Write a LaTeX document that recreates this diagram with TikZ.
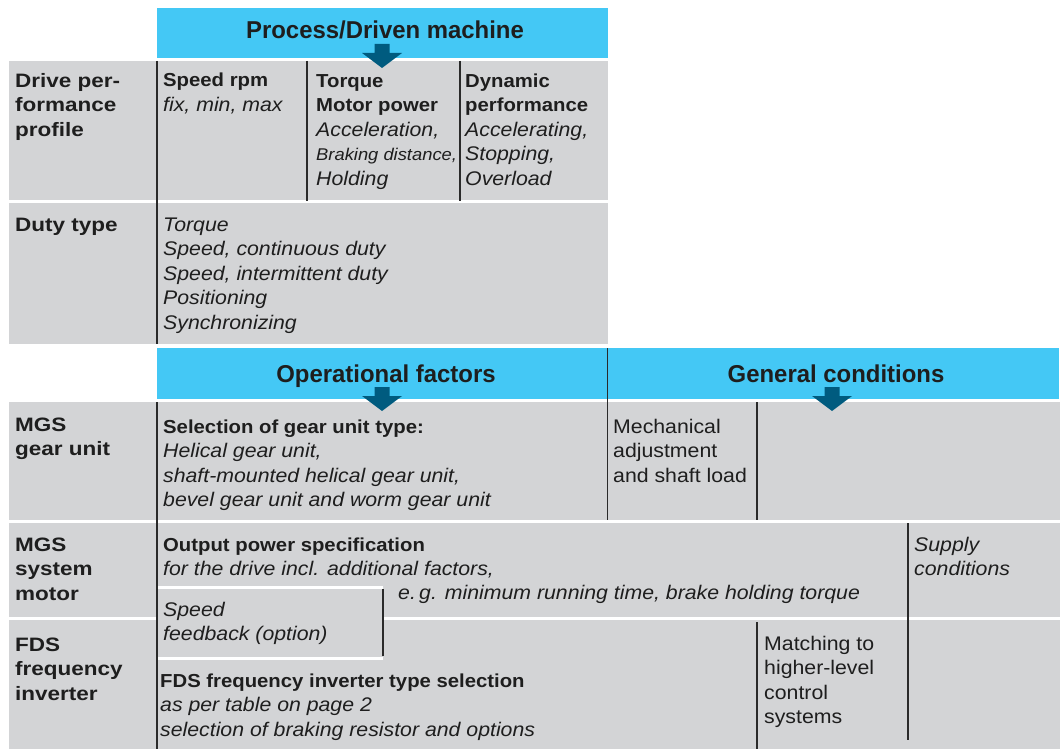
\documentclass[tikz,border=0pt]{standalone}
\usepackage{fontspec}
\setmainfont[FakeStretch=1.08]{Liberation Sans}
\newfontfamily\hdrfont[FakeStretch=0.98]{Liberation Sans}
\newfontfamily\lblfont[FakeStretch=1.16]{Liberation Sans}
\definecolor{cgray}{HTML}{D3D4D6}
\definecolor{cblue}{HTML}{44C8F5}
\definecolor{carrow}{HTML}{005B7F}
\definecolor{ctext}{HTML}{1E1E1E}
\definecolor{cline}{HTML}{2A2A2A}
\newcommand\tb[1]{{\fontsize{18.8}{24.6}\selectfont\bfseries #1}}
\newcommand\tl[1]{{\lblfont\fontsize{19.4}{24.6}\selectfont\bfseries #1}}
\newcommand\ti[1]{{\fontsize{19.7}{24.6}\selectfont\itshape #1}}
\newcommand\tr[1]{{\fontsize{19.7}{24.6}\selectfont #1}}
\newcommand\tsi[1]{{\fontsize{17}{24.6}\selectfont\itshape #1}}
\newcommand\ls{24.6}
\begin{document}
\begin{tikzpicture}[x=1pt,y=-1pt,
  cell/.style={fill=cgray},
  hdr/.style={fill=cblue},
  vline/.style={draw=cline,line width=1.2pt},
  sepline/.style={draw=white,line width=3pt},
  txt/.style={anchor=base west,inner sep=0pt,align=left,text=ctext,
    font=\fontsize{19.5}{24.6}\selectfont},
  htxt/.style={anchor=base,inner sep=0pt,text=ctext,
    font=\hdrfont\fontsize{24.4}{28}\selectfont\bfseries},
  arr/.style={fill=carrow}]
\useasboundingbox (0,0) rectangle (1062,749);
\fill[white] (0,0) rectangle (1062,749);
% backgrounds
\fill[hdr] (157,8) rectangle (608,58);
\fill[cell] (9,61) rectangle (608,200);
\fill[cell] (9,203) rectangle (608,344);
\fill[hdr] (157,348) rectangle (1059,399);
\fill[cell] (9,402) rectangle (1060,520);
\fill[cell] (9,523) rectangle (1060,749);
% white separators rows 4/5 and feedback box
\draw[sepline] (9,618.5) -- (157,618.5);
\draw[sepline] (383,618.5) -- (1060,618.5);
\draw[sepline] (157,587) -- (383,587);
\draw[sepline] (157,658) -- (383,658);
% vertical rules
\draw[vline] (157,61) -- (157,344);
\draw[vline] (307,61) -- (307,201);
\draw[vline] (460,61) -- (460,201);
\draw[vline] (157,402) -- (157,749);
\draw[vline] (607.5,348) -- (607.5,520);
\draw[vline] (757,402) -- (757,520);
\draw[vline] (908,523) -- (908,740);
\draw[vline] (383,589) -- (383,656);
\draw[vline] (757,622) -- (757,749);
% arrows
\newcommand\dnarrow[3]{\fill[arr] (#1-7.5,#2) -- (#1+7.5,#2) -- (#1+7.5,#2+9) -- (#1+20,#2+9) -- (#1,#3) -- (#1-20,#2+9) -- (#1-7.5,#2+9) -- cycle;}
\dnarrow{382}{44}{68}
\dnarrow{382}{387}{411}
\dnarrow{832}{387}{411}
% header texts
\node[htxt] (h1) at (385,39) {Process/Driven machine};
\node[htxt] (h2) at (386,382) {Operational factors};
\node[htxt] (h3) at (836,382) {General conditions};
% row 1 (anchors sit on the last line's baseline)
\node[txt] (l1) at (15,{87+2*\ls}) {\tl{Drive per-}\\\tl{formance}\\\tl{profile}};
\node[txt] (c11) at (163,{87+1*\ls}) {\tb{Speed rpm}\\\ti{fix, min, max}};
\node[txt] (c12) at (316,{87+4*\ls}) {\tb{Torque}\\\tb{Motor power}\\\ti{Acceleration,}\\\tsi{Braking distance,}\\\ti{Holding}};
\node[txt] (c13) at (465,{87+4*\ls}) {\tb{Dynamic}\\\tb{performance}\\\ti{Accelerating,}\\\ti{Stopping,}\\\ti{Overload}};
% row 2
\node[txt] (l2) at (15,231) {\tl{Duty type}};
\node[txt] (c21) at (163,{231+4*\ls}) {\ti{Torque}\\\ti{Speed, continuous duty}\\\ti{Speed, intermittent duty}\\\ti{Positioning}\\\ti{Synchronizing}};
% row 3
\node[txt] (l3) at (15,{431+1*\ls}) {\tl{MGS}\\\tl{gear unit}};
\node[txt] (c31) at (163,{433+3*\ls}) {\tb{Selection of gear unit type:}\\\ti{Helical gear unit,}\\\ti{shaft-mounted helical gear unit,}\\\ti{bevel gear unit and worm gear unit}};
\node[txt] (c32) at (613,{433+2*\ls}) {\tr{Mechanical}\\\tr{adjustment}\\\tr{and shaft load}};
% row 4
\node[txt] (l4) at (15,{551+2*\ls}) {\tl{MGS}\\\tl{system}\\\tl{motor}};
\node[txt] (c41) at (163,{551+1*\ls}) {\tb{Output power specification}\\\ti{for the drive incl. additional factors,}};
\node[txt] (c42) at (398,599) {\ti{e.\,g. minimum running time, brake holding torque}};
\node[txt] (c43) at (914,{551+1*\ls}) {\ti{Supply}\\\ti{conditions}};
\node[txt] (c44) at (163,{616+1*\ls}) {\ti{Speed}\\\ti{feedback (option)}};
% row 5
\node[txt] (l5) at (15,{651+2*\ls}) {\tl{FDS}\\\tl{frequency}\\\tl{inverter}};
\node[txt] (c51) at (160,{687+2*\ls}) {\tb{FDS frequency inverter type selection}\\\ti{as per table on page 2}\\\ti{selection of braking resistor and options}};
\node[txt] (c52) at (764,{650+3*\ls}) {\tr{Matching to}\\\tr{higher-level}\\\tr{control}\\\tr{systems}};
\end{tikzpicture}
\end{document}
